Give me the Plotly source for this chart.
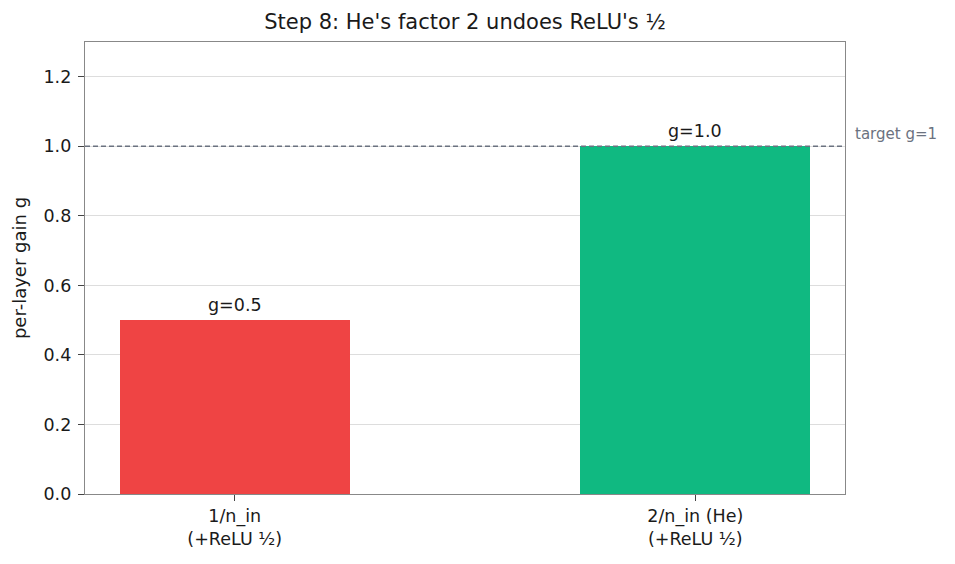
import plotly.graph_objects as go

categories = ["1/n_in<br>(+ReLU ½)", "2/n_in (He)<br>(+ReLU ½)"]
positions = [0, 1]
gains = [0.5, 1.0]
bar_labels = ["g=0.5", "g=1.0"]
colors = ["#EF4444", "#10B981"]
target = 1.0
y_ticks = [0.0, 0.2, 0.4, 0.6, 0.8, 1.0, 1.2]

FONT = "DejaVu Sans"
TXT = "#1a1a1a"

fig = go.Figure()
fig.add_trace(go.Bar(
    x=positions, y=gains, width=0.5,
    marker=dict(color=colors, line=dict(width=0)),
    showlegend=False, hoverinfo="skip",
))

for x, y, t in zip(positions, gains, bar_labels):
    fig.add_annotation(x=x, y=y, text=t, showarrow=False, yanchor="bottom",
                       yshift=3, font=dict(family=FONT, size=17.5, color=TXT))

fig.add_shape(type="line", xref="x domain", yref="y", x0=0, x1=1, y0=target, y1=target,
              line=dict(color="#6B7280", width=1.4, dash="5px,3px"))
fig.add_annotation(xref="x domain", yref="y", x=1.011, y=target, text="target g=1",
                   showarrow=False, xanchor="left", yanchor="bottom", yshift=1,
                   font=dict(family=FONT, size=15, color="#6B7280"))

fig.update_layout(
    width=955, height=564,
    margin=dict(l=85, r=110, t=42, b=70),
    paper_bgcolor="white", plot_bgcolor="white",
    font=dict(family=FONT, size=17.5, color=TXT),
    title=dict(text="Step 8: He's factor 2 undoes ReLU's ½", xref="paper", x=0.5, xanchor="center",
               y=1 - 22/564, yanchor="middle", font=dict(family=FONT, size=21, color=TXT)),
    bargap=0,
)
fig.update_xaxes(range=[-0.325, 1.325], tickvals=positions, ticktext=categories,
                 showgrid=False, zeroline=False, showline=True, linecolor="#888", linewidth=1.4,
                 mirror=True, ticks="outside", ticklen=6, tickcolor="#444",
                 tickfont=dict(family=FONT, size=17.5, color=TXT))
fig.update_yaxes(range=[0, 1.3], tickvals=y_ticks, ticktext=[f"{v:.1f}" for v in y_ticks],
                 showgrid=True, gridcolor="#DDDDDD", gridwidth=0.8, zeroline=False,
                 showline=True, linecolor="#888", linewidth=1.4, mirror=True,
                 ticks="outside", ticklen=6, tickcolor="#444", ticklabelstandoff=3,
                 tickfont=dict(family=FONT, size=17.5, color=TXT),
                 title=dict(text="per-layer gain g", standoff=12,
                            font=dict(family=FONT, size=18, color=TXT)))

fig.write_html("out.html")
